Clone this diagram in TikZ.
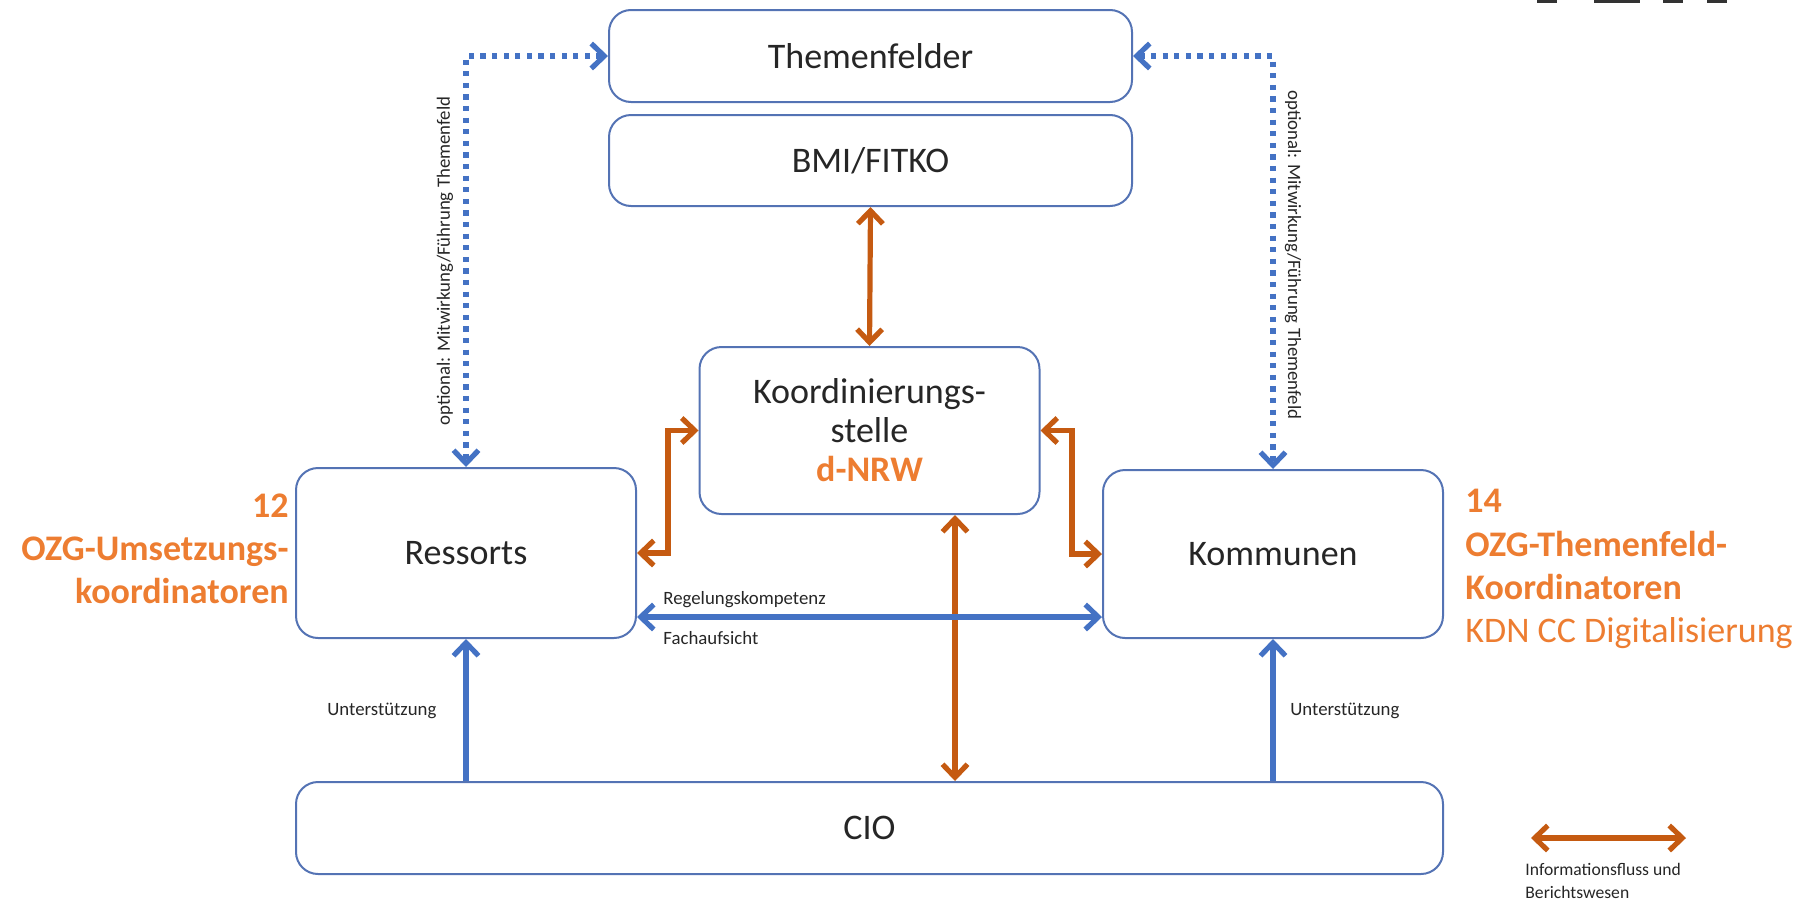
\documentclass[tikz,border=0pt]{standalone}
\usepackage{fontspec}
\setmainfont{Carlito}
\usetikzlibrary{arrows.meta}
\definecolor{boxblue}{RGB}{84,115,180}
\definecolor{blueA}{RGB}{68,114,196}
\definecolor{orangeA}{RGB}{197,90,17}
\definecolor{orangeT}{RGB}{237,125,49}
\definecolor{txt}{RGB}{38,38,38}
\begin{document}
\begin{tikzpicture}[x=0.5pt,y=-0.5pt,
  box/.style={draw=boxblue, line width=1pt, rounded corners=11pt, inner sep=0pt, text=txt, font=\fontsize{18}{19.5}\selectfont, align=center},
  tipb/.tip={Straight Barb[length=6.5pt,width=12.5pt]},
  oarr/.style={draw=orangeA, line width=2.6pt, tipb-tipb},
  barr/.style={draw=blueA, line width=2.6pt, tipb-tipb},
  uarr/.style={draw=blueA, line width=2.6pt, -tipb},
  darr/.style={draw=blueA, line width=2.6pt, dash pattern=on 2.6pt off 3.2pt, tipb-tipb},
  small/.style={font=\fontsize{9.4}{11.5}\selectfont, text=txt, inner sep=0pt},
  side/.style={font=\fontsize{18}{21.6}\selectfont, text=orangeT, inner sep=0pt}
]
\useasboundingbox (0,0) rectangle (1798,900);
% partial logo at the top edge
\fill[black!80] (1537,0) rectangle (1557,3);
\fill[black!80] (1594,0) rectangle (1640,3);
\fill[black!80] (1663,0) rectangle (1683,3);
\fill[black!80] (1707,0) rectangle (1727,3);

% boxes
\node[box, minimum width=261.5pt, minimum height=46pt] (them) at (870.5,56) {Themenfelder};
\node[box, minimum width=261.5pt, minimum height=45.5pt] (bmi) at (870.5,160.5) {BMI/FITKO};
\node[box, minimum width=170pt, minimum height=83.5pt] (koord) at (869.5,430.5) {Koordinierungs-\\stelle\\\textcolor{orangeT}{\bfseries d-NRW}};
\node[box, minimum width=170pt, minimum height=85pt] (ress) at (466,553) {Ressorts};
\node[box, minimum width=170pt, minimum height=84pt] (komm) at (1273,554) {Kommunen};
\node[box, minimum width=573.5pt, minimum height=46pt] (cio) at (869.5,828) {CIO};

% helper coordinates
\coordinate (ev1) at (668,0);
\coordinate (ev2) at (1072,0);
\coordinate (vv) at (955,0);
\coordinate (hh) at (0,617);

% dotted connections
\draw[darr] (them.west) -| (ress.north);
\draw[darr] (them.east) -| (komm.north);
\node[small, rotate=90] (ltxt) at (445,261) {optional: Mitwirkung/Führung Themenfeld};
\node[small, rotate=-90] (rtxt) at (1293,255) {optional: Mitwirkung/Führung Themenfeld};

% orange connections
\draw[oarr] (bmi.south) -- (koord.north);
\draw[oarr] (koord.west) -- (koord.west -| ev1) |- (ress.east);
\draw[oarr] (koord.east) -- (koord.east -| ev2) |- (komm.west);
\draw[oarr] (koord.south -| vv) -- (cio.north -| vv);

% blue connections
\draw[barr] (ress.east |- hh) -- (komm.west |- hh);
\node[small, anchor=west] (reg) at (663,600) {Regelungskompetenz};
\node[small, anchor=west] (fach) at (663,638) {Fachaufsicht};
\draw[uarr] (cio.north -| ress.south) -- (ress.south);
\draw[uarr] (cio.north -| komm.south) -- (komm.south);
\node[small, anchor=west] (ul) at (327,711) {Unterstützung};
\node[small, anchor=west] (ur) at (1290,711) {Unterstützung};

% side texts
\node[side, anchor=east, align=right] (lside) at (289,549) {\bfseries 12\\\bfseries OZG-Umsetzungs-\\\bfseries koordinatoren};
\node[side, anchor=west, align=left] (rside) at (1465,569) {\bfseries 14\\\bfseries OZG-Themenfeld-\\\bfseries Koordinatoren\\KDN CC Digitalisierung};

% legend
\coordinate (la) at (1531,838);
\coordinate (lb) at (1686,838);
\draw[oarr] (la) -- (lb);
\node[font=\fontsize{8.8}{11.5}\selectfont, text=txt, inner sep=0pt, anchor=west, align=left] (leg) at (1525,880.5) {Informationsfluss und\\Berichtswesen};
\end{tikzpicture}
\end{document}
